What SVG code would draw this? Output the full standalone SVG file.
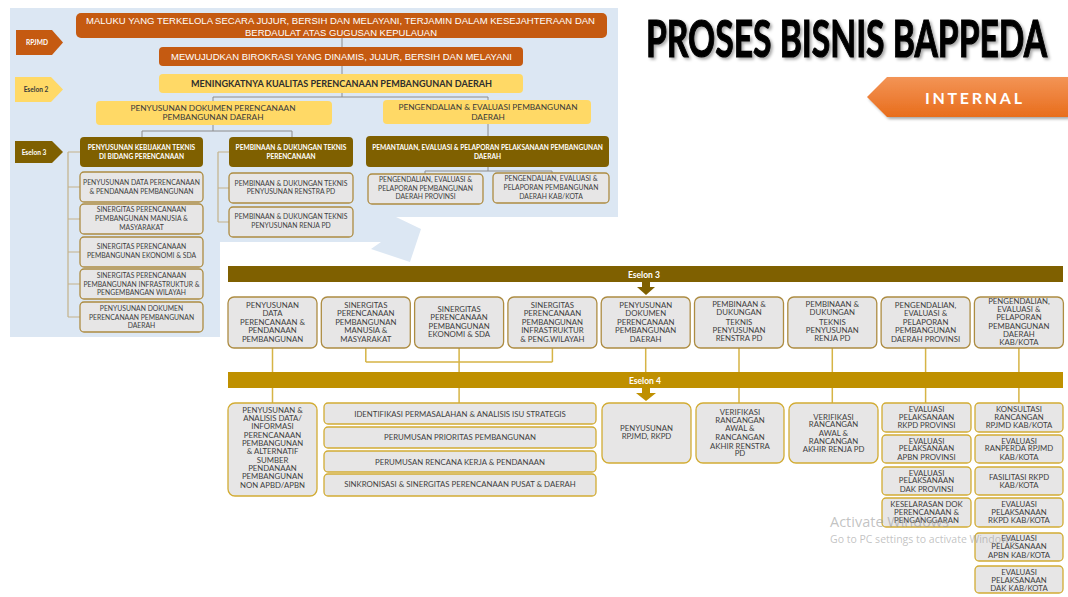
<svg xmlns="http://www.w3.org/2000/svg" width="1068" height="597" viewBox="0 0 1068 597">
<defs>
<style>
text{font-family:Lato,"Liberation Sans",sans-serif;text-anchor:middle}
.bg{fill:#dce7f3}
.or{fill:#c55a11}
.ye{fill:#ffd966}
.dk{fill:#7f6000}
.gd{fill:#bf9000}
.cb{fill:#e7e6e6;stroke:#ad8c42;stroke-width:1.3}
.cb4{fill:#e7e6e6;stroke:#d2ac34;stroke-width:1.3}
.ar{font-family:"Liberation Sans",Arial,sans-serif;font-size:9.8px;fill:#fff}
.tag{font-size:6.6px;font-weight:bold;fill:#fff}
.yt{font-size:8.3px;fill:#3a3a3a}
.dt{font-size:6.6px;font-weight:bold;fill:#fff}
.lc{font-size:6.8px;fill:#404040}
.bt{font-size:7.8px;fill:#404040}
.bar{font-size:8.5px;font-weight:bold;fill:#fff;text-anchor:start}
.ln{stroke:#8c8c8c;stroke-width:1;fill:none}
.br{stroke:#c4b28a;stroke-width:1.2;fill:none}
.cn{stroke:#d6b446;stroke-width:1.5;fill:none}
.wm{font-family:"Open Sans","Noto Sans",sans-serif;fill:#9a9a9a;fill-opacity:.6;text-anchor:start}
</style>
<filter id="sh" x="-5%" y="-20%" width="110%" height="150%">
<feDropShadow dx="2" dy="2" stdDeviation="1.5" flood-color="#000" flood-opacity="0.35"/>
</filter>
<linearGradient id="og" x1="0" y1="0" x2="0" y2="1">
<stop offset="0" stop-color="#f39456"/>
<stop offset="1" stop-color="#e86d1c"/>
</linearGradient>
</defs>

<rect width="1068" height="597" fill="#fff"/>

<!-- title and tag -->
<g id="title">
<text x="846.5" y="57" font-family="'Liberation Sans Narrow','DejaVu Sans Condensed','Liberation Sans',sans-serif" font-weight="bold" font-size="52" textLength="401" lengthAdjust="spacingAndGlyphs" fill="#000" stroke="#000" stroke-width="1.2" filter="url(#sh)">PROSES BISNIS BAPPEDA</text>
</g>
<g id="internal">
<polygon points="867,97 887,77 1068,77 1068,117 887,117" fill="url(#og)" filter="url(#sh)"/>
<text x="925" y="103.5" font-size="16" font-weight="bold" fill="#fff" style="text-anchor:start" textLength="97">INTERNAL</text>
</g>

<!-- internal structure panel -->
<polygon class="bg" points="10,8 618,8 618,217 396,217 421,229 410,262 371,249 381,242 220,242 220,337 10,337"/>

<g id="panel-connectors">
<path class="ln" d="M342 38V97M213 97H488M213 97V131M488 97V136M142 131H292M142 131V137M292 131V137M488 167V171M425 171H552M425 171V174M552 171V173"/>
<path class="br" d="M68 152V317M68 152H80M68 187H80M68 219H80M68 252H80M68 284H80M68 317H80"/>
<path class="br" d="M218 152V222M218 152H229M218 188H229M218 222H229"/>
</g>

<g id="tag-rpjmd">
<polygon class="or" points="16,30 52,30 63,42.5 52,55 16,55"/>
<text class="tag" x="37" y="45">RPJMD</text>
</g>
<g id="tag-eselon2">
<polygon class="ye" points="15,77 51,77 63,89.5 51,102 15,102"/>
<text class="tag" x="36" y="92" fill="#3a3a3a" style="fill:#3a3a3a">Eselon 2</text>
</g>
<g id="tag-eselon3">
<polygon class="dk" points="15,141 52,141 63,152 52,163 15,163"/>
<text class="tag" x="34" y="155">Eselon 3</text>
</g>

<g id="visi">
<rect class="or" x="76" y="13" width="531" height="25" rx="5"/>
<text class="ar" x="340.5" y="24" textLength="509" lengthAdjust="spacingAndGlyphs">MALUKU YANG TERKELOLA SECARA JUJUR, BERSIH DAN MELAYANI, TERJAMIN DALAM KESEJAHTERAAN DAN</text>
<text class="ar" x="341" y="35.5" textLength="192" lengthAdjust="spacingAndGlyphs">BERDAULAT ATAS GUGUSAN KEPULAUAN</text>
</g>
<g id="misi">
<rect class="or" x="159" y="47" width="364" height="19" rx="4"/>
<text class="ar" x="341.5" y="60" textLength="341" lengthAdjust="spacingAndGlyphs">MEWUJUDKAN BIROKRASI YANG DINAMIS, JUJUR, BERSIH DAN MELAYANI</text>
</g>
<g id="tujuan">
<rect class="ye" x="159" y="74" width="364" height="19" rx="4"/>
<text x="341.5" y="87.3" font-size="9" font-weight="bold" fill="#2e2e2e" textLength="301" lengthAdjust="spacingAndGlyphs">MENINGKATNYA KUALITAS PERENCANAAN PEMBANGUNAN DAERAH</text>
</g>
<g id="sasaran-1">
<rect class="ye" x="96" y="101" width="236" height="24" rx="4"/>
<text class="yt" x="214"><tspan x="213" y="111">PENYUSUNAN DOKUMEN PERENCANAAN</tspan><tspan x="213" y="120.3">PEMBANGUNAN DAERAH</tspan></text>
</g>
<g id="sasaran-2">
<rect class="ye" x="383" y="100" width="208" height="24" rx="4"/>
<text class="yt"><tspan x="488" y="109.5">PENGENDALIAN &amp; EVALUASI PEMBANGUNAN</tspan><tspan x="488" y="119.5">DAERAH</tspan></text>
</g>

<g id="bidang-1">
<rect class="dk" x="80" y="137" width="123" height="30" rx="4"/>
<text class="dt"><tspan x="141.5" y="149.5">PENYUSUNAN KEBIJAKAN TEKNIS</tspan><tspan x="141.5" y="158.5">DI BIDANG PERENCANAAN</tspan></text>
</g>
<g id="bidang-2">
<rect class="dk" x="229" y="137" width="124" height="30" rx="4"/>
<text class="dt"><tspan x="291" y="149.5">PEMBINAAN &amp; DUKUNGAN TEKNIS</tspan><tspan x="291" y="158.5">PERENCANAAN</tspan></text>
</g>
<g id="bidang-3">
<rect class="dk" x="366" y="136" width="243" height="31" rx="4"/>
<text class="dt"><tspan x="487.5" y="149.5">PEMANTAUAN, EVALUASI &amp; PELAPORAN PELAKSANAAN PEMBANGUNAN</tspan><tspan x="487.5" y="158.5">DAERAH</tspan></text>
</g>

<g id="sub-1-1">
<rect class="cb" x="80" y="172" width="123" height="30" rx="4"/>
<text class="lc"><tspan x="141.5" y="185.3">PENYUSUNAN DATA PERENCANAAN</tspan><tspan x="141.5" y="193.8">&amp; PENDANAAN PEMBANGUNAN</tspan></text>
</g>
<g id="sub-1-2">
<rect class="cb" x="80" y="204" width="123" height="30" rx="4"/>
<text class="lc"><tspan x="141.5" y="212.3">SINERGITAS PERENCANAAN</tspan><tspan x="141.5" y="221.3">PEMBANGUNAN MANUSIA &amp;</tspan><tspan x="141.5" y="229.6">MASYARAKAT</tspan></text>
</g>
<g id="sub-1-3">
<rect class="cb" x="80" y="237" width="123" height="30" rx="4"/>
<text class="lc"><tspan x="141.5" y="249.3">SINERGITAS PERENCANAAN</tspan><tspan x="141.5" y="258.3">PEMBANGUNAN EKONOMI &amp; SDA</tspan></text>
</g>
<g id="sub-1-4">
<rect class="cb" x="80" y="269" width="123" height="30" rx="4"/>
<text class="lc"><tspan x="141.5" y="278">SINERGITAS PERENCANAAN</tspan><tspan x="141.5" y="286.6">PEMBANGUNAN INFRASTRUKTUR &amp;</tspan><tspan x="141.5" y="295">PENGEMBANGAN WILAYAH</tspan></text>
</g>
<g id="sub-1-5">
<rect class="cb" x="80" y="302" width="123" height="30" rx="4"/>
<text class="lc"><tspan x="141.5" y="310.6">PENYUSUNAN DOKUMEN</tspan><tspan x="141.5" y="319.6">PERENCANAAN PEMBANGUNAN</tspan><tspan x="141.5" y="328.3">DAERAH</tspan></text>
</g>
<g id="sub-2-1">
<rect class="cb" x="229" y="173" width="124" height="30" rx="4"/>
<text class="lc"><tspan x="291" y="185.6">PEMBINAAN &amp; DUKUNGAN TEKNIS</tspan><tspan x="291" y="194">PENYUSUNAN RENSTRA PD</tspan></text>
</g>
<g id="sub-2-2">
<rect class="cb" x="229" y="207" width="124" height="30" rx="4"/>
<text class="lc"><tspan x="291" y="219">PEMBINAAN &amp; DUKUNGAN TEKNIS</tspan><tspan x="291" y="228">PENYUSUNAN RENJA PD</tspan></text>
</g>
<g id="sub-3-1">
<rect class="cb" x="368" y="174" width="115" height="30" rx="4"/>
<text class="lc"><tspan x="425.5" y="182.3">PENGENDALIAN, EVALUASI &amp;</tspan><tspan x="425.5" y="190.6">PELAPORAN PEMBANGUNAN</tspan><tspan x="425.5" y="199">DAERAH PROVINSI</tspan></text>
</g>
<g id="sub-3-2">
<rect class="cb" x="493" y="173" width="116" height="30" rx="4"/>
<text class="lc"><tspan x="551" y="181.3">PENGENDALIAN, EVALUASI &amp;</tspan><tspan x="551" y="190">PELAPORAN PEMBANGUNAN</tspan><tspan x="551" y="198.6">DAERAH KAB/KOTA</tspan></text>
</g>

<!-- detail chart connectors -->
<g id="connectors">
<path class="cn" d="M272.5 348V403M365.8 348V362M552.4 348V362M365.8 362H552.4M459.1 348V403M645.7 348V372M739 348V403M832.3 348V403M925.6 348V403M1018.9 348V403"/>
</g>

<g id="bar-eselon3">
<rect class="dk" x="228" y="266" width="835" height="16"/>
<text class="bar" x="628" y="277.5">Eselon 3</text>
<polygon class="dk" points="642,282 650,282 650,287 655,287 646,295 637,287 642,287"/>
</g>
<g id="bar-eselon4">
<rect class="gd" x="228" y="372" width="835" height="16"/>
<text class="bar" x="629" y="383.5">Eselon 4</text>
<polygon class="gd" points="642,388 650,388 650,393 656,393 646,401 636,393 642,393"/>
</g>

<!-- eselon 3 row -->
<g id="e3-1">
<rect class="cb" x="228" y="297" width="89" height="51" rx="6"/>
<text class="bt"><tspan x="272.5" y="307.9">PENYUSUNAN</tspan><tspan x="272.5" y="316.3">DATA</tspan><tspan x="272.5" y="324.7">PERENCANAAN &amp;</tspan><tspan x="272.5" y="333.1">PENDANAAN</tspan><tspan x="272.5" y="341.7">PEMBANGUNAN</tspan></text>
</g>
<g id="e3-2">
<rect class="cb" x="321.3" y="297" width="89" height="51" rx="6"/>
<text class="bt"><tspan x="365.8" y="307.9">SINERGITAS</tspan><tspan x="365.8" y="316.3">PERENCANAAN</tspan><tspan x="365.8" y="324.7">PEMBANGUNAN</tspan><tspan x="365.8" y="333.1">MANUSIA &amp;</tspan><tspan x="365.8" y="341.7">MASYARAKAT</tspan></text>
</g>
<g id="e3-3">
<rect class="cb" x="414.6" y="297" width="89" height="51" rx="6"/>
<text class="bt"><tspan x="459.1" y="312.2">SINERGITAS</tspan><tspan x="459.1" y="320.4">PERENCANAAN</tspan><tspan x="459.1" y="328.8">PEMBANGUNAN</tspan><tspan x="459.1" y="337">EKONOMI &amp; SDA</tspan></text>
</g>
<g id="e3-4">
<rect class="cb" x="507.9" y="297" width="89" height="51" rx="6"/>
<text class="bt"><tspan x="552.4" y="307.9">SINERGITAS</tspan><tspan x="552.4" y="316.3">PERENCANAAN</tspan><tspan x="552.4" y="324.7">PEMBANGUNAN</tspan><tspan x="552.4" y="333.1">INFRASTRUKTUR</tspan><tspan x="552.4" y="341.7">&amp; PENG.WILAYAH</tspan></text>
</g>
<g id="e3-5">
<rect class="cb" x="601.2" y="297" width="89" height="51" rx="6"/>
<text class="bt"><tspan x="645.7" y="307.9">PENYUSUNAN</tspan><tspan x="645.7" y="316.3">DOKUMEN</tspan><tspan x="645.7" y="324.7">PERENCANAAN</tspan><tspan x="645.7" y="333.1">PEMBANGUNAN</tspan><tspan x="645.7" y="341.7">DAERAH</tspan></text>
</g>
<g id="e3-6">
<rect class="cb" x="694.5" y="297" width="89" height="51" rx="6"/>
<text class="bt"><tspan x="739" y="306.9">PEMBINAAN &amp;</tspan><tspan x="739" y="315.2">DUKUNGAN</tspan><tspan x="739" y="324.6">TEKNIS</tspan><tspan x="739" y="332.9">PENYUSUNAN</tspan><tspan x="739" y="341.2">RENSTRA PD</tspan></text>
</g>
<g id="e3-7">
<rect class="cb" x="787.8" y="297" width="89" height="51" rx="6"/>
<text class="bt"><tspan x="832.3" y="306.9">PEMBINAAN &amp;</tspan><tspan x="832.3" y="315.2">DUKUNGAN</tspan><tspan x="832.3" y="324.6">TEKNIS</tspan><tspan x="832.3" y="332.9">PENYUSUNAN</tspan><tspan x="832.3" y="341.2">RENJA PD</tspan></text>
</g>
<g id="e3-8">
<rect class="cb" x="881.1" y="297" width="89" height="51" rx="6"/>
<text class="bt"><tspan x="925.6" y="307.9">PENGENDALIAN,</tspan><tspan x="925.6" y="316.3">EVALUASI &amp;</tspan><tspan x="925.6" y="324.7">PELAPORAN</tspan><tspan x="925.6" y="333.1">PEMBANGUNAN</tspan><tspan x="925.6" y="341.7">DAERAH PROVINSI</tspan></text>
</g>
<g id="e3-9">
<rect class="cb" x="974.4" y="297" width="89" height="51" rx="6"/>
<text class="bt"><tspan x="1018.9" y="303.6">PENGENDALIAN,</tspan><tspan x="1018.9" y="311.9">EVALUASI &amp;</tspan><tspan x="1018.9" y="320.2">PELAPORAN</tspan><tspan x="1018.9" y="328.6">PEMBANGUNAN</tspan><tspan x="1018.9" y="337">DAERAH</tspan><tspan x="1018.9" y="345.4">KAB/KOTA</tspan></text>
</g>

<!-- eselon 4 row -->
<g id="e4-data">
<rect class="cb4" x="228" y="403" width="89" height="93" rx="7"/>
<text class="bt"><tspan x="272.5" y="412.8">PENYUSUNAN &amp;</tspan><tspan x="272.5" y="421.1">ANALISIS DATA/</tspan><tspan x="272.5" y="429.4">INFORMASI</tspan><tspan x="272.5" y="437.7">PERENCANAAN</tspan><tspan x="272.5" y="446">PEMBANGUNAN</tspan><tspan x="272.5" y="454.3">&amp; ALTERNATIF</tspan><tspan x="272.5" y="462.6">SUMBER</tspan><tspan x="272.5" y="470.9">PENDANAAN</tspan><tspan x="272.5" y="479.2">PEMBANGUNAN</tspan><tspan x="272.5" y="487.5">NON APBD/APBN</tspan></text>
</g>
<g id="e4-isu">
<rect class="cb4" x="324" y="403" width="272" height="21" rx="4"/>
<text class="bt" x="460" y="416.8">IDENTIFIKASI PERMASALAHAN &amp; ANALISIS ISU STRATEGIS</text>
</g>
<g id="e4-prioritas">
<rect class="cb4" x="324" y="427" width="272" height="21" rx="4"/>
<text class="bt" x="460" y="440.1">PERUMUSAN PRIORITAS PEMBANGUNAN</text>
</g>
<g id="e4-renja">
<rect class="cb4" x="324" y="451" width="272" height="21" rx="4"/>
<text class="bt" x="460" y="464.5">PERUMUSAN RENCANA KERJA &amp; PENDANAAN</text>
</g>
<g id="e4-sinkron">
<rect class="cb4" x="324" y="474" width="272" height="22" rx="4"/>
<text class="bt" x="460" y="487.1">SINKRONISASI &amp; SINERGITAS PERENCANAAN PUSAT &amp; DAERAH</text>
</g>
<g id="e4-rpjmd">
<rect class="cb4" x="602" y="403" width="89" height="60" rx="7"/>
<text class="bt"><tspan x="646.5" y="431.1">PENYUSUNAN</tspan><tspan x="646.5" y="438.8">RPJMD, RKPD</tspan></text>
</g>
<g id="e4-renstra">
<rect class="cb4" x="696" y="403" width="88" height="60" rx="7"/>
<text class="bt"><tspan x="740" y="414.5">VERIFIKASI</tspan><tspan x="740" y="422.8">RANCANGAN</tspan><tspan x="740" y="431.1">AWAL &amp;</tspan><tspan x="740" y="439.5">RANCANGAN</tspan><tspan x="740" y="448.5">AKHIR RENSTRA</tspan><tspan x="740" y="456.1">PD</tspan></text>
</g>
<g id="e4-renja-pd">
<rect class="cb4" x="789" y="403" width="89" height="60" rx="7"/>
<text class="bt"><tspan x="833.5" y="419.5">VERIFIKASI</tspan><tspan x="833.5" y="427.1">RANCANGAN</tspan><tspan x="833.5" y="435.5">AWAL &amp;</tspan><tspan x="833.5" y="443.8">RANCANGAN</tspan><tspan x="833.5" y="452.1">AKHIR RENJA PD</tspan></text>
</g>

<g id="e4-prov-1">
<rect class="cb4" x="882" y="403" width="89" height="29" rx="4"/>
<text class="bt"><tspan x="926.5" y="411.8">EVALUASI</tspan><tspan x="926.5" y="419.5">PELAKSANAAN</tspan><tspan x="926.5" y="427.8">RKPD PROVINSI</tspan></text>
</g>
<g id="e4-prov-2">
<rect class="cb4" x="882" y="435" width="89" height="28" rx="4"/>
<text class="bt"><tspan x="926.5" y="443.5">EVALUASI</tspan><tspan x="926.5" y="451.1">PELAKSANAAN</tspan><tspan x="926.5" y="459.5">APBN PROVINSI</tspan></text>
</g>
<g id="e4-prov-3">
<rect class="cb4" x="882" y="467" width="89" height="28" rx="4"/>
<text class="bt"><tspan x="926.5" y="475.5">EVALUASI</tspan><tspan x="926.5" y="483.1">PELAKSANAAN</tspan><tspan x="926.5" y="491.5">DAK PROVINSI</tspan></text>
</g>
<g id="e4-prov-4">
<rect class="cb4" x="882" y="498" width="89" height="29" rx="4"/>
<text class="bt"><tspan x="926.5" y="506.8">KESELARASAN DOK</tspan><tspan x="926.5" y="514.8">PERENCANAAN &amp;</tspan><tspan x="926.5" y="523.1">PENGANGGARAN</tspan></text>
</g>

<g id="e4-kab-1">
<rect class="cb4" x="975" y="403" width="88" height="29" rx="4"/>
<text class="bt"><tspan x="1019" y="411.8">KONSULTASI</tspan><tspan x="1019" y="419.5">RANCANGAN</tspan><tspan x="1019" y="427.8">RPJMD KAB/KOTA</tspan></text>
</g>
<g id="e4-kab-2">
<rect class="cb4" x="975" y="435" width="88" height="28" rx="4"/>
<text class="bt"><tspan x="1019" y="443.5">EVALUASI</tspan><tspan x="1019" y="451.1">RANPERDA RPJMD</tspan><tspan x="1019" y="459.5">KAB/KOTA</tspan></text>
</g>
<g id="e4-kab-3">
<rect class="cb4" x="975" y="467" width="88" height="28" rx="4"/>
<text class="bt"><tspan x="1019" y="479.5">FASILITASI RKPD</tspan><tspan x="1019" y="487.8">KAB/KOTA</tspan></text>
</g>
<g id="e4-kab-4">
<rect class="cb4" x="975" y="498" width="88" height="29" rx="4"/>
<text class="bt"><tspan x="1019" y="506.8">EVALUASI</tspan><tspan x="1019" y="514.8">PELAKSANAAN</tspan><tspan x="1019" y="523.1">RKPD KAB/KOTA</tspan></text>
</g>
<g id="e4-kab-5">
<rect class="cb4" x="975" y="533" width="88" height="28" rx="4"/>
<text class="bt"><tspan x="1019" y="540.5">EVALUASI</tspan><tspan x="1019" y="549.1">PELAKSANAAN</tspan><tspan x="1019" y="557.5">APBN KAB/KOTA</tspan></text>
</g>
<g id="e4-kab-6">
<rect class="cb4" x="975" y="566" width="88" height="27" rx="4"/>
<text class="bt"><tspan x="1019" y="574.5">EVALUASI</tspan><tspan x="1019" y="582.5">PELAKSANAAN</tspan><tspan x="1019" y="590.8">DAK KAB/KOTA</tspan></text>
</g>

<!-- system overlay text -->
<g id="overlay">
<text class="wm" x="830" y="527" font-size="14.5">Activate Windows</text>
<text class="wm" x="830" y="543" font-size="10.5">Go to PC settings to activate Windows.</text>
</g>
</svg>
